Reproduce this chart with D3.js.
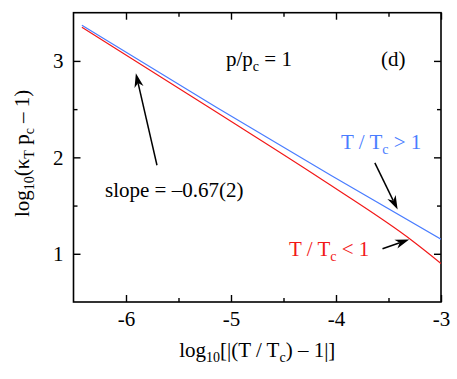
<!DOCTYPE html>
<html>
<head>
<meta charset="utf-8">
<script src="https://cdn.jsdelivr.net/npm/d3@7"></script>
<style>
  body { margin: 0; background: #fff; }
  svg { display: block; }
  text { font-family: "Liberation Serif", "Times New Roman", serif; }
</style>
</head>
<body>
<div id="chart"></div>
<script>
// ---- data ----
const blueX = [-6.42, -5.14, -4.05, -3.0];
const blueY = [3.37, 2.52, 1.815, 1.15];          // T/Tc > 1
const redX  = [-6.42, -5.14, -4.05, -3.28, -3.0];
const redY  = [3.35, 2.47, 1.71, 1.14, 0.90];     // T/Tc < 1
const xMajorTicks = [-6, -5, -4, -3];
const xMinorTicks = [-5.5, -4.5, -3.5];
const yMajorTicks = [1, 2, 3];
const yMinorTicks = [1.5, 2.5];
const xDomain = [-6.5, -3];
const yDomain = [0.5, 3.5];

const W = 457, H = 379;
const margin = {left: 73.5, right: 16, top: 12.7, bottom: 77};
const innerW = W - margin.left - margin.right;
const innerH = H - margin.top - margin.bottom;

const svg = d3.select("#chart").append("svg").attr("width", W).attr("height", H);
const g = svg.append("g").attr("transform", `translate(${margin.left},${margin.top})`);

const x = d3.scaleLinear().domain(xDomain).range([0, innerW]);
const y = d3.scaleLinear().domain(yDomain).range([innerH, 0]);

const fs = 21, subFs = 14;
const blue = "#4a7dff", red = "#f21818";

// ---- axes (ticks inward on all sides) ----
function styleAxis(sel) {
  sel.attr("font-family", null);
  sel.select(".domain").remove();
  sel.selectAll("line").attr("stroke", "#000").attr("stroke-width", 1.4);
  sel.selectAll("text").attr("font-size", fs).attr("fill", "#000")
     .style("font-family", '"Liberation Serif", serif');
}
const fmt = d => String(d);
// bottom
g.append("g").attr("transform", `translate(0,${innerH})`)
  .call(d3.axisBottom(x).tickValues(xMajorTicks).tickSizeInner(-7).tickSizeOuter(0).tickPadding(9).tickFormat(fmt))
  .call(styleAxis);
g.append("g").attr("transform", `translate(0,${innerH})`)
  .call(d3.axisBottom(x).tickValues(xMinorTicks).tickSizeInner(-4).tickSizeOuter(0).tickFormat(""))
  .call(styleAxis);
// top
g.append("g")
  .call(d3.axisTop(x).tickValues(xMajorTicks).tickSizeInner(-7).tickSizeOuter(0).tickFormat(""))
  .call(styleAxis);
g.append("g")
  .call(d3.axisTop(x).tickValues(xMinorTicks).tickSizeInner(-4).tickSizeOuter(0).tickFormat(""))
  .call(styleAxis);
// left
g.append("g")
  .call(d3.axisLeft(y).tickValues(yMajorTicks).tickSizeInner(-7).tickSizeOuter(0).tickPadding(10).tickFormat(fmt))
  .call(styleAxis);
g.append("g")
  .call(d3.axisLeft(y).tickValues(yMinorTicks).tickSizeInner(-4).tickSizeOuter(0).tickFormat(""))
  .call(styleAxis);
// right
g.append("g").attr("transform", `translate(${innerW},0)`)
  .call(d3.axisRight(y).tickValues(yMajorTicks).tickSizeInner(-7).tickSizeOuter(0).tickFormat(""))
  .call(styleAxis);
g.append("g").attr("transform", `translate(${innerW},0)`)
  .call(d3.axisRight(y).tickValues(yMinorTicks).tickSizeInner(-4).tickSizeOuter(0).tickFormat(""))
  .call(styleAxis);

// frame
g.append("rect").attr("x", 0).attr("y", 0).attr("width", innerW).attr("height", innerH)
  .attr("fill", "none").attr("stroke", "#000").attr("stroke-width", 1.6);

// ---- lines ----
svg.append("clipPath").attr("id", "clip").append("rect")
  .attr("x", 0).attr("y", 0).attr("width", innerW).attr("height", innerH);
const line = d3.line().x(d => x(d[0])).y(d => y(d[1])).curve(d3.curveMonotoneX);
g.append("path").datum(d3.zip(blueX, blueY)).attr("d", line)
  .attr("fill", "none").attr("stroke", blue).attr("stroke-width", 1.2).attr("clip-path", "url(#clip)");
g.append("path").datum(d3.zip(redX, redY)).attr("d", line)
  .attr("fill", "none").attr("stroke", red).attr("stroke-width", 1.2).attr("clip-path", "url(#clip)");

// ---- arrows ----
function arrow(x0, y0, x1, y1) {
  const px0 = x(x0), py0 = y(y0), px1 = x(x1), py1 = y(y1);
  const ang = Math.atan2(py1 - py0, px1 - px0);
  const L = 14, Wd = 4.6, notch = 10;
  const ca = Math.cos(ang), sa = Math.sin(ang);
  const pt = (a, b) => [px1 - a * ca + b * sa, py1 - a * sa - b * ca];
  const nb = pt(notch, 0);
  g.append("line").attr("x1", px0).attr("y1", py0).attr("x2", nb[0]).attr("y2", nb[1])
    .attr("stroke", "#000").attr("stroke-width", 1.5);
  const p1 = pt(L, Wd), p2 = pt(notch, 0), p3 = pt(L, -Wd);
  g.append("path").attr("d", `M${px1},${py1}L${p1[0]},${p1[1]}L${p2[0]},${p2[1]}L${p3[0]},${p3[1]}Z`)
    .attr("fill", "#000");
}
arrow(-5.705, 1.918, -5.906, 2.871);
arrow(-3.630, 1.942, -3.413, 1.458);
arrow(-3.557, 1.053, -3.303, 1.147);

// ---- text annotations ----
function richText(parent, xPos, yPos, parts, color, anchor) {
  const t = parent.append("text").attr("x", xPos).attr("y", yPos)
    .attr("font-size", fs).attr("fill", color || "#000").attr("text-anchor", anchor || "start");
  let shift = 0;
  parts.forEach(p => {
    const ts = t.append("tspan").text(p.t);
    const target = p.sub ? 5 : 0;
    if (target !== shift) { ts.attr("dy", target - shift); shift = target; }
    if (p.sub) ts.attr("font-size", subFs);
  });
  return t;
}
richText(svg, 226, 66, [{t: "p/p"}, {t: "c", sub: true}, {t: " = 1"}]);
richText(svg, 381, 66, [{t: "(d)"}]);
richText(svg, 341, 149, [{t: "T / T"}, {t: "c", sub: true}, {t: " > 1"}], blue);
richText(svg, 289, 256, [{t: "T / T"}, {t: "c", sub: true}, {t: " < 1"}], red);
richText(svg, 105, 197, [{t: "slope = \u20130.67(2)"}]);

// axis titles
richText(svg, margin.left + innerW / 2, 357,
  [{t: "log"}, {t: "10", sub: true}, {t: "[|(T / T"}, {t: "c", sub: true}, {t: ") \u2013 1|]"}], "#000", "middle");
const yl = svg.append("g").attr("transform", `translate(29,${margin.top + innerH / 2 - 4}) rotate(-90)`);
richText(yl, 0, 0,
  [{t: "log"}, {t: "10", sub: true}, {t: "(\u03ba"}, {t: "T", sub: true}, {t: " p"}, {t: "c", sub: true}, {t: " \u2013 1)"}], "#000", "middle");
</script>
</body>
</html>
